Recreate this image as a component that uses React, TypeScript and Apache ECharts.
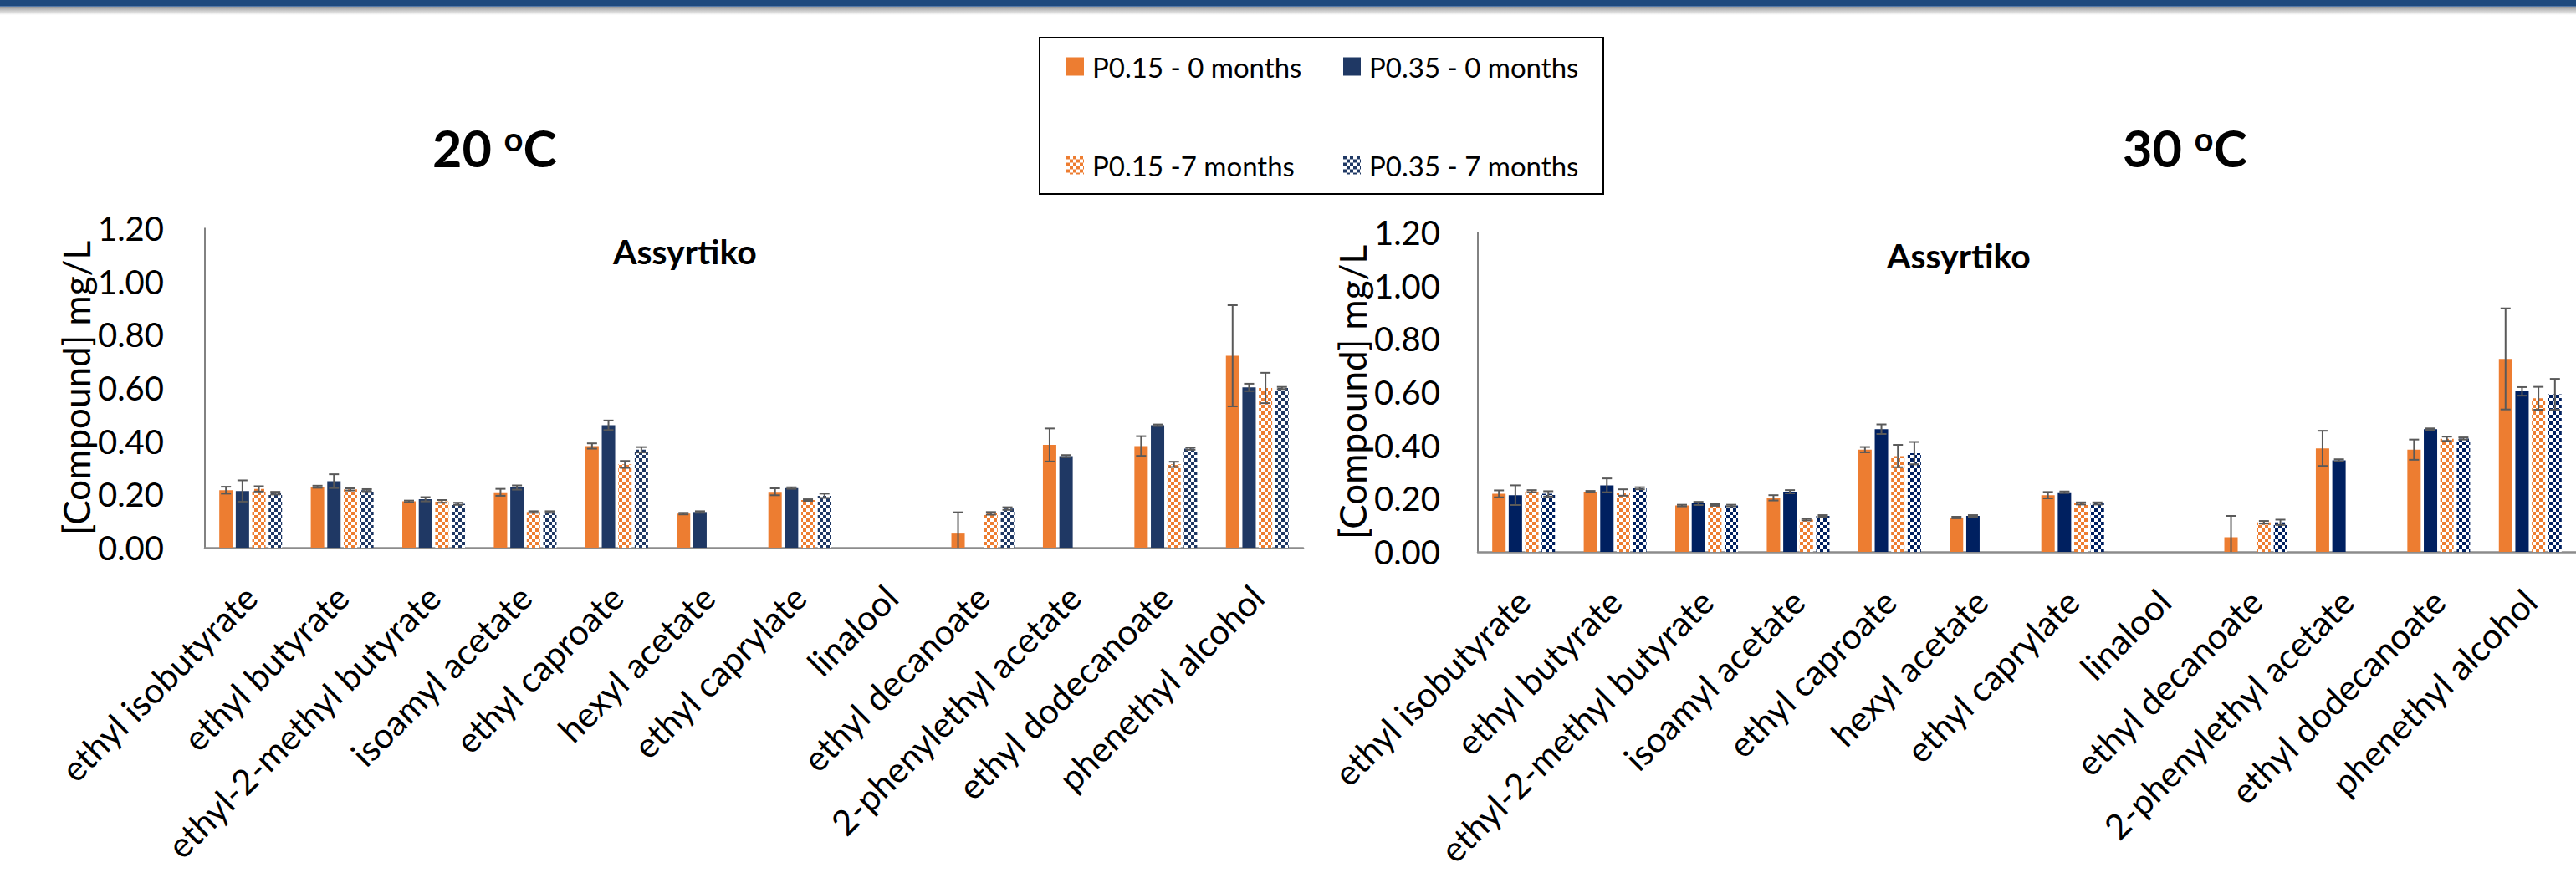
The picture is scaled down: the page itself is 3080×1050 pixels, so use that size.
import React, { useEffect, useRef } from 'react';
import * as echarts from 'echarts';

const FONT = 'Lato, "Open Sans", sans-serif';

const categories = [
  'ethyl isobutyrate', 'ethyl butyrate', 'ethyl-2-methyl butyrate', 'isoamyl acetate',
  'ethyl caproate', 'hexyl acetate', 'ethyl caprylate', 'linalool', 'ethyl decanoate',
  '2-phenylethyl acetate', 'ethyl dodecanoate', 'phenethyl alcohol',
];

const seriesNames = ['P0.15 - 0 months', 'P0.35 - 0 months', 'P0.15 -7 months', 'P0.35 - 7 months'];
const yTicks = { min: 0, max: 1.2, interval: 0.2 };

// 20 oC
const p015_0m_20 = [0.216, 0.229, 0.174, 0.208, 0.382, 0.128, 0.210, null, 0.053, 0.386, 0.382, 0.721];
const p015_0m_20_err = [0.013, 0.004, 0.003, 0.013, 0.010, 0.003, 0.013, null, 0.080, 0.062, 0.037, 0.190];
const p035_0m_20 = [0.213, 0.250, 0.182, 0.226, 0.460, 0.134, 0.224, null, null, 0.344, 0.460, 0.602];
const p035_0m_20_err = [0.040, 0.026, 0.008, 0.008, 0.018, 0.003, 0.003, null, null, 0.004, 0.003, 0.014];
const p015_7m_20 = [0.221, 0.219, 0.174, 0.134, 0.313, null, 0.179, null, 0.129, null, 0.313, 0.600];
const p015_7m_20_err = [0.010, 0.004, 0.005, 0.003, 0.013, null, 0.003, null, 0.005, null, 0.010, 0.057];
const p035_7m_20 = [0.205, 0.216, 0.165, 0.134, 0.368, null, 0.195, null, 0.147, null, 0.372, 0.600];
const p035_7m_20_err = [0.005, 0.004, 0.004, 0.003, 0.010, null, 0.008, null, 0.005, null, 0.004, 0.004];

// 30 oC
const p015_0m_30 = [0.218, 0.226, 0.174, 0.203, 0.384, 0.129, 0.213, null, 0.055, 0.389, 0.384, 0.725];
const p015_0m_30_err = [0.013, 0.003, 0.003, 0.010, 0.010, 0.003, 0.012, null, 0.080, 0.066, 0.038, 0.190];
const p035_0m_30 = [0.213, 0.250, 0.182, 0.226, 0.461, 0.135, 0.224, null, null, 0.344, 0.461, 0.603];
const p035_0m_30_err = [0.037, 0.026, 0.006, 0.006, 0.018, 0.003, 0.003, null, null, 0.004, 0.003, 0.016];
const p015_7m_30 = [0.228, 0.223, 0.176, 0.121, 0.360, null, 0.182, null, 0.111, null, 0.425, 0.577];
const p015_7m_30_err = [0.004, 0.012, 0.003, 0.003, 0.042, null, 0.004, null, 0.005, null, 0.008, 0.043];
const p035_7m_30 = [0.218, 0.239, 0.174, 0.135, 0.371, null, 0.182, null, 0.111, null, 0.426, 0.592];
const p035_7m_30_err = [0.010, 0.004, 0.003, 0.003, 0.042, null, 0.004, null, 0.010, null, 0.004, 0.058];

const ORANGE = '#ED7D31';
const NAVY_L = '#1F3864';
const NAVY_R = '#002060';
const BAR_W = 16;
const BAR_GAP = 0.23;

function checker(color: string, cell = 4) {
  const c = document.createElement('canvas');
  c.width = cell * 2;
  c.height = cell * 2;
  const ctx = c.getContext('2d')!;
  ctx.fillStyle = '#ffffff';
  ctx.fillRect(0, 0, c.width, c.height);
  ctx.fillStyle = color;
  ctx.fillRect(0, 0, cell, cell);
  ctx.fillRect(cell, cell, cell, cell);
  return { image: c, repeat: 'repeat' } as any;
}

function buildOption() {
  const panels = [
    {
      vals: [p015_0m_20, p035_0m_20, p015_7m_20, p035_7m_20],
      errs: [p015_0m_20_err, p035_0m_20_err, p015_7m_20_err, p035_7m_20_err],
      colors: [ORANGE, NAVY_L, checker(ORANGE), checker(NAVY_L)],
    },
    {
      vals: [p015_0m_30, p035_0m_30, p015_7m_30, p035_7m_30],
      errs: [p015_0m_30_err, p035_0m_30_err, p015_7m_30_err, p035_7m_30_err],
      colors: [ORANGE, NAVY_R, checker(ORANGE), checker(NAVY_R)],
    },
  ];

  const series: any[] = [];
  const pitch = BAR_W * (1 + BAR_GAP);
  panels.forEach((p, g) => {
    p.vals.forEach((vals, k) => {
      series.push({
        type: 'bar',
        name: seriesNames[k],
        xAxisIndex: g,
        yAxisIndex: g,
        data: vals.map((v) => (v == null ? '-' : v)),
        barWidth: BAR_W,
        barGap: BAR_GAP * 100 + '%',
        itemStyle: { color: p.colors[k] },
      });
    });
    p.vals.forEach((vals, k) => {
      const offset = (k - 1.5) * pitch;
      const data: any[] = [];
      vals.forEach((v, i) => {
        const e = p.errs[k][i];
        if (v != null && e != null) data.push([i, v, e]);
      });
      series.push({
        type: 'custom',
        name: 'err' + g + '-' + k,
        xAxisIndex: g,
        yAxisIndex: g,
        silent: true,
        z: 10,
        data,
        renderItem: (params: any, api: any) => {
          const idx = api.value(0);
          const v = api.value(1);
          const e = api.value(2);
          const hiV = v + e;
          const loV = Math.max(0, v - e);
          const hi = api.coord([idx, hiV]);
          const lo = api.coord([idx, loV]);
          const cx = hi[0] + offset;
          const st = { stroke: '#595959', lineWidth: 2 };
          const children: any[] = [
            { type: 'line', shape: { x1: cx, y1: hi[1], x2: cx, y2: lo[1] }, style: st },
            { type: 'line', shape: { x1: cx - 6, y1: hi[1], x2: cx + 6, y2: hi[1] }, style: st },
          ];
          if (v - e > 0) {
            children.push({ type: 'line', shape: { x1: cx - 6, y1: lo[1], x2: cx + 6, y2: lo[1] }, style: st });
          }
          return { type: 'group', children };
        },
      });
    });
  });

  const grids = [
    { left: 245, top: 273, width: 1313, height: 382 },
    { left: 1767, top: 278, width: 1313, height: 382 },
  ];

  const xAxis = grids.map((_, g) => ({
    gridIndex: g,
    type: 'category',
    data: categories,
    axisLine: { show: true, lineStyle: { color: '#8c8c8c', width: 2.5 } },
    axisTick: { show: false },
    axisLabel: { interval: 0, rotate: 45, fontSize: 42, fontFamily: FONT, color: '#000', margin: 52 },
  }));

  const yAxis = grids.map((_, g) => ({
    gridIndex: g,
    type: 'value',
    min: yTicks.min,
    max: yTicks.max,
    interval: yTicks.interval,
    axisLine: { show: true, lineStyle: { color: '#595959', width: 1.5 } },
    axisTick: { show: false },
    splitLine: { show: false },
    axisLabel: {
      formatter: (v: number) => v.toFixed(2),
      fontSize: 40,
      fontFamily: FONT,
      color: '#000',
      margin: g === 0 ? 49 : 45,
    },
    name: '[Compound] mg/L',
    nameLocation: 'middle',
    nameRotate: 90,
    nameGap: 128,
    nameTextStyle: { fontSize: 44, fontFamily: FONT, color: '#000' },
  }));

  const legendPos = [
    { left: 1275, top: 63 },
    { left: 1606, top: 63 },
    { left: 1275, top: 181 },
    { left: 1606, top: 181 },
  ];
  const legend = seriesNames.map((n, i) => ({
    data: [n],
    left: legendPos[i].left,
    top: legendPos[i].top,
    padding: 0,
    icon: 'rect',
    itemWidth: 21,
    itemHeight: 22,
    selectedMode: false,
    textStyle: { fontSize: 33, fontFamily: FONT, color: '#000', padding: [0, 0, 0, 5] },
  }));

  const titleRich = (txt: string, x: number) => ({
    type: 'text',
    x,
    y: 146,
    style: {
      text: `{n|${txt} }{s|o}{n|C}`,
      verticalAlign: 'top',
      align: 'left',
      rich: {
        n: { fontSize: 61, fontWeight: 'bold', fontFamily: FONT, fill: '#000', lineHeight: 61 },
        s: { fontSize: 40, fontWeight: 'bold', fontFamily: FONT, fill: '#000', verticalAlign: 'top', lineHeight: 40 },
      },
    },
  });

  const graphic: any[] = [
    { type: 'rect', shape: { x: 0, y: 0, width: 3080, height: 7 }, style: { fill: '#1F4A7E' } },
    { type: 'rect', shape: { x: 0, y: 7, width: 3080, height: 1 }, style: { fill: '#5579A8' } },
    {
      type: 'rect',
      shape: { x: 0, y: 8, width: 3080, height: 10 },
      style: {
        fill: new echarts.graphic.LinearGradient(0, 0, 0, 1, [
          { offset: 0, color: '#9a9a9a' },
          { offset: 1, color: '#ffffff' },
        ]),
      },
    },
    {
      type: 'rect',
      shape: { x: 1243, y: 45, width: 674, height: 187 },
      style: { fill: 'none', stroke: '#000', lineWidth: 2 },
    },
    titleRich('20', 517),
    titleRich('30', 2538),
    {
      type: 'text',
      x: 733,
      y: 280,
      style: { text: 'Assyrtiko', fontSize: 41, fontWeight: 'bold', fontFamily: FONT, fill: '#000', verticalAlign: 'top' },
    },
    {
      type: 'text',
      x: 2256,
      y: 285,
      style: { text: 'Assyrtiko', fontSize: 41, fontWeight: 'bold', fontFamily: FONT, fill: '#000', verticalAlign: 'top' },
    },
  ];

  return {
    animation: false,
    backgroundColor: '#ffffff',
    grid: grids,
    xAxis,
    yAxis,
    legend,
    series,
    graphic,
  };
}

export default function App() {
  const ref = useRef<HTMLDivElement>(null);
  useEffect(() => {
    if (!ref.current) return;
    const chart = echarts.init(ref.current, null, { renderer: 'svg' });
    chart.setOption(buildOption() as any);
    return () => chart.dispose();
  }, []);
  return (
    <div
      ref={ref}
      style={{ position: 'absolute', left: 0, top: 0, width: 3080, height: 1050, background: '#fff' }}
    />
  );
}
